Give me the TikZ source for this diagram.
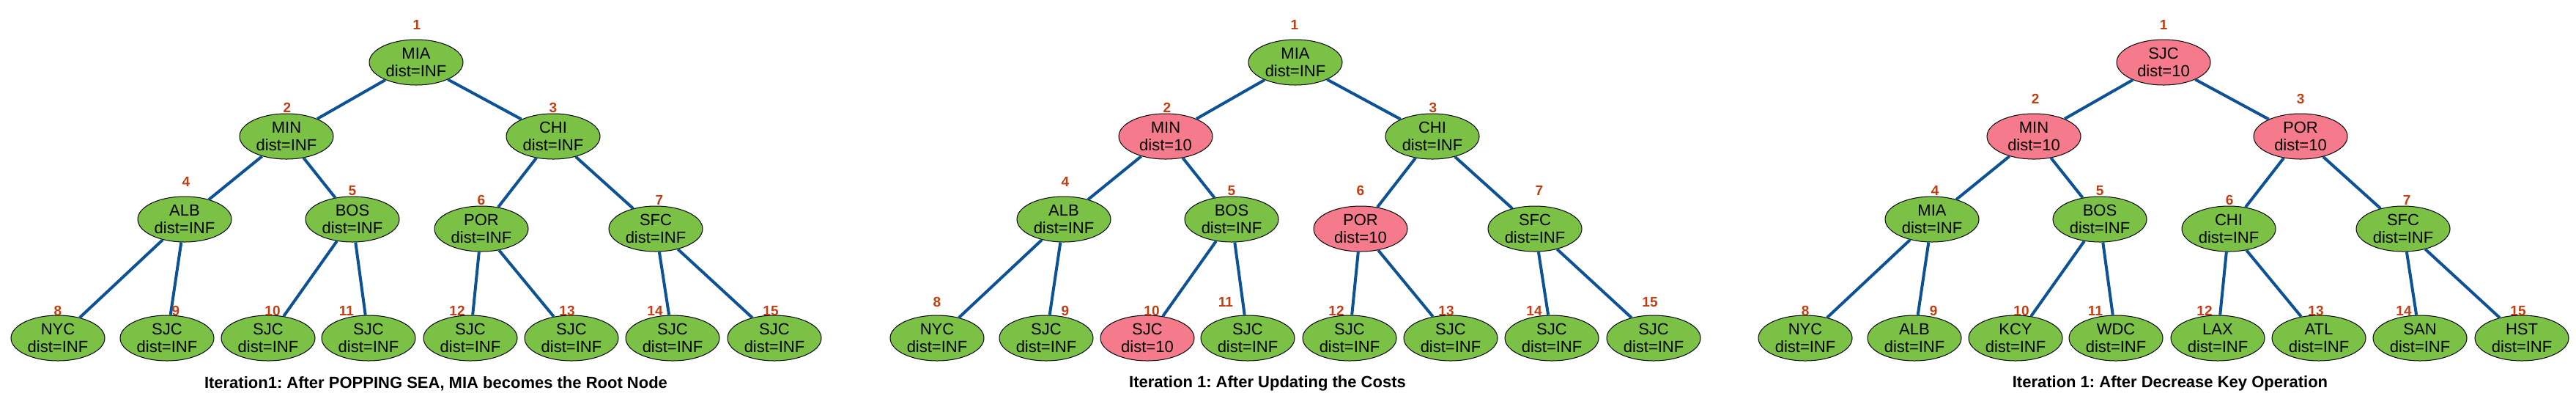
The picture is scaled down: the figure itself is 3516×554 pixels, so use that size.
\documentclass[tikz,border=0pt]{standalone}
\usepackage{fontspec}
\setmainfont{Liberation Sans}
\usepackage{tikz}
\usetikzlibrary{shapes.geometric}
\definecolor{heapgreen}{RGB}{122,193,70}
\definecolor{heappink}{RGB}{244,122,140}
\definecolor{edgeblue}{RGB}{14,82,150}
\definecolor{numred}{RGB}{192,62,18}
\frenchspacing

\begin{document}
\begin{tikzpicture}[x=0.5pt,y=-0.5pt]
            \tikzset{
                city/.style={ellipse,draw=black,line width=0.5pt,fill=heapgreen,
                    minimum width=64pt,minimum height=31pt,inner sep=0pt,
                    align=center,font=\fontsize{11}{12}\selectfont},
                upd/.style={city,fill=heappink},
                num/.style={text=numred,font=\fontsize{9.5}{10}\selectfont\bfseries,inner sep=0pt},
                edge/.style={draw=edgeblue,line width=2pt},
                caption/.style={font=\fontsize{11}{12}\selectfont\bfseries},}
            \useasboundingbox (0,0) rectangle (3516,554);
            % first heap
            \node (a1) [city] at (568,85) {MIA\\dist=INF};
            \node (a2) [city] at (391,186) {MIN\\dist=INF};
            \node (a3) [city] at (755,186) {CHI\\dist=INF};
            \node (a4) [city] at (252,299) {ALB\\dist=INF};
            \node (a5) [city] at (481,299) {BOS\\dist=INF};
            \node (a6) [city] at (657,312) {POR\\dist=INF};
            \node (a7) [city] at (895,312) {SFC\\dist=INF};
            \node (a8) [city] at (79,461) {NYC\\dist=INF};
            \node (a9) [city] at (228,461) {SJC\\dist=INF};
            \node (a10) [city] at (366,461) {SJC\\dist=INF};
            \node (a11) [city] at (503,461) {SJC\\dist=INF};
            \node (a12) [city] at (642,461) {SJC\\dist=INF};
            \node (a13) [city] at (780,461) {SJC\\dist=INF};
            \node (a14) [city] at (918,461) {SJC\\dist=INF};
            \node (a15) [city] at (1057,461) {SJC\\dist=INF};
            \draw [edge] (a1) -- (a2) (a1) -- (a3) (a2) -- (a4) (a2) -- (a5)
                (a3) -- (a6) (a3) -- (a7) (a4) -- (a8) (a4) -- (a9)
                (a5) -- (a10) (a5) -- (a11) (a6) -- (a12) (a6) -- (a13)
                (a7) -- (a14) (a7) -- (a15);
            \node (a1n) [num] at (569,34) {1};
            \node (a2n) [num] at (392,147) {2};
            \node (a3n) [num] at (755,147) {3};
            \node (a4n) [num] at (254,248) {4};
            \node (a5n) [num] at (481,260) {5};
            \node (a6n) [num] at (657,273) {6};
            \node (a7n) [num] at (900,273) {7};
            \node (a8n) [num] at (79,424) {8};
            \node (a9n) [num] at (240,424) {9};
            \node (a10n) [num] at (372,424) {10};
            \node (a11n) [num] at (473,424) {11};
            \node (a12n) [num] at (624,424) {12};
            \node (a13n) [num] at (774,424) {13};
            \node (a14n) [num] at (894,424) {14};
            \node (a15n) [num] at (1052,424) {15};
            \node (acap) [caption] at (595,523) {Iteration1: After POPPING SEA, MIA becomes the Root Node};
            % second heap
            \begin{scope}[xshift=600pt]
            \node (b1) [city] at (568,85) {MIA\\dist=INF};
            \node (b2) [upd] at (391,186) {MIN\\dist=10};
            \node (b3) [city] at (755,186) {CHI\\dist=INF};
            \node (b4) [city] at (252,299) {ALB\\dist=INF};
            \node (b5) [city] at (481,299) {BOS\\dist=INF};
            \node (b6) [upd] at (657,312) {POR\\dist=10};
            \node (b7) [city] at (895,312) {SFC\\dist=INF};
            \node (b8) [city] at (79,461) {NYC\\dist=INF};
            \node (b9) [city] at (228,461) {SJC\\dist=INF};
            \node (b10) [upd] at (366,461) {SJC\\dist=10};
            \node (b11) [city] at (503,461) {SJC\\dist=INF};
            \node (b12) [city] at (642,461) {SJC\\dist=INF};
            \node (b13) [city] at (780,461) {SJC\\dist=INF};
            \node (b14) [city] at (918,461) {SJC\\dist=INF};
            \node (b15) [city] at (1057,461) {SJC\\dist=INF};
            \draw [edge] (b1) -- (b2) (b1) -- (b3) (b2) -- (b4) (b2) -- (b5)
                (b3) -- (b6) (b3) -- (b7) (b4) -- (b8) (b4) -- (b9)
                (b5) -- (b10) (b5) -- (b11) (b6) -- (b12) (b6) -- (b13)
                (b7) -- (b14) (b7) -- (b15);
            \node (b1n) [num] at (567,34) {1};
            \node (b2n) [num] at (393,147) {2};
            \node (b3n) [num] at (756,147) {3};
            \node (b4n) [num] at (254,248) {4};
            \node (b5n) [num] at (481,260) {5};
            \node (b6n) [num] at (657,260) {6};
            \node (b7n) [num] at (901,260) {7};
            \node (b8n) [num] at (79,412) {8};
            \node (b9n) [num] at (254,424) {9};
            \node (b10n) [num] at (372,424) {10};
            \node (b11n) [num] at (473,412) {11};
            \node (b12n) [num] at (624,424) {12};
            \node (b13n) [num] at (774,424) {13};
            \node (b14n) [num] at (894,424) {14};
            \node (b15n) [num] at (1052,412) {15};
            \node (bcap) [caption] at (530,523) {Iteration 1: After Updating the Costs};
            \end{scope}
            % third heap
            \begin{scope}[xshift=1192.5pt]
            \node (c1) [upd] at (568,85) {SJC\\dist=10};
            \node (c2) [upd] at (391,186) {MIN\\dist=10};
            \node (c3) [upd] at (755,186) {POR\\dist=10};
            \node (c4) [city] at (252,299) {MIA\\dist=INF};
            \node (c5) [city] at (481,299) {BOS\\dist=INF};
            \node (c6) [city] at (657,312) {CHI\\dist=INF};
            \node (c7) [city] at (895,312) {SFC\\dist=INF};
            \node (c8) [city] at (79,461) {NYC\\dist=INF};
            \node (c9) [city] at (228,461) {ALB\\dist=INF};
            \node (c10) [city] at (366,461) {KCY\\dist=INF};
            \node (c11) [city] at (503,461) {WDC\\dist=INF};
            \node (c12) [city] at (642,461) {LAX\\dist=INF};
            \node (c13) [city] at (780,461) {ATL\\dist=INF};
            \node (c14) [city] at (918,461) {SAN\\dist=INF};
            \node (c15) [city] at (1057,461) {HST\\dist=INF};
            \draw [edge] (c1) -- (c2) (c1) -- (c3) (c2) -- (c4) (c2) -- (c5)
                (c3) -- (c6) (c3) -- (c7) (c4) -- (c8) (c4) -- (c9)
                (c5) -- (c10) (c5) -- (c11) (c6) -- (c12) (c6) -- (c13)
                (c7) -- (c14) (c7) -- (c15);
            \node (c1n) [num] at (568,34) {1};
            \node (c2n) [num] at (393,135) {2};
            \node (c3n) [num] at (755,135) {3};
            \node (c4n) [num] at (256,260) {4};
            \node (c5n) [num] at (481,260) {5};
            \node (c6n) [num] at (658,273) {6};
            \node (c7n) [num] at (900,273) {7};
            \node (c8n) [num] at (79,424) {8};
            \node (c9n) [num] at (254,424) {9};
            \node (c10n) [num] at (374,424) {10};
            \node (c11n) [num] at (475,424) {11};
            \node (c12n) [num] at (624,424) {12};
            \node (c13n) [num] at (776,424) {13};
            \node (c14n) [num] at (896,424) {14};
            \node (c15n) [num] at (1052,424) {15};
            \node (ccap) [caption] at (577,523) {Iteration 1: After Decrease Key Operation};
            \end{scope}
        \end{tikzpicture}
\end{document}
